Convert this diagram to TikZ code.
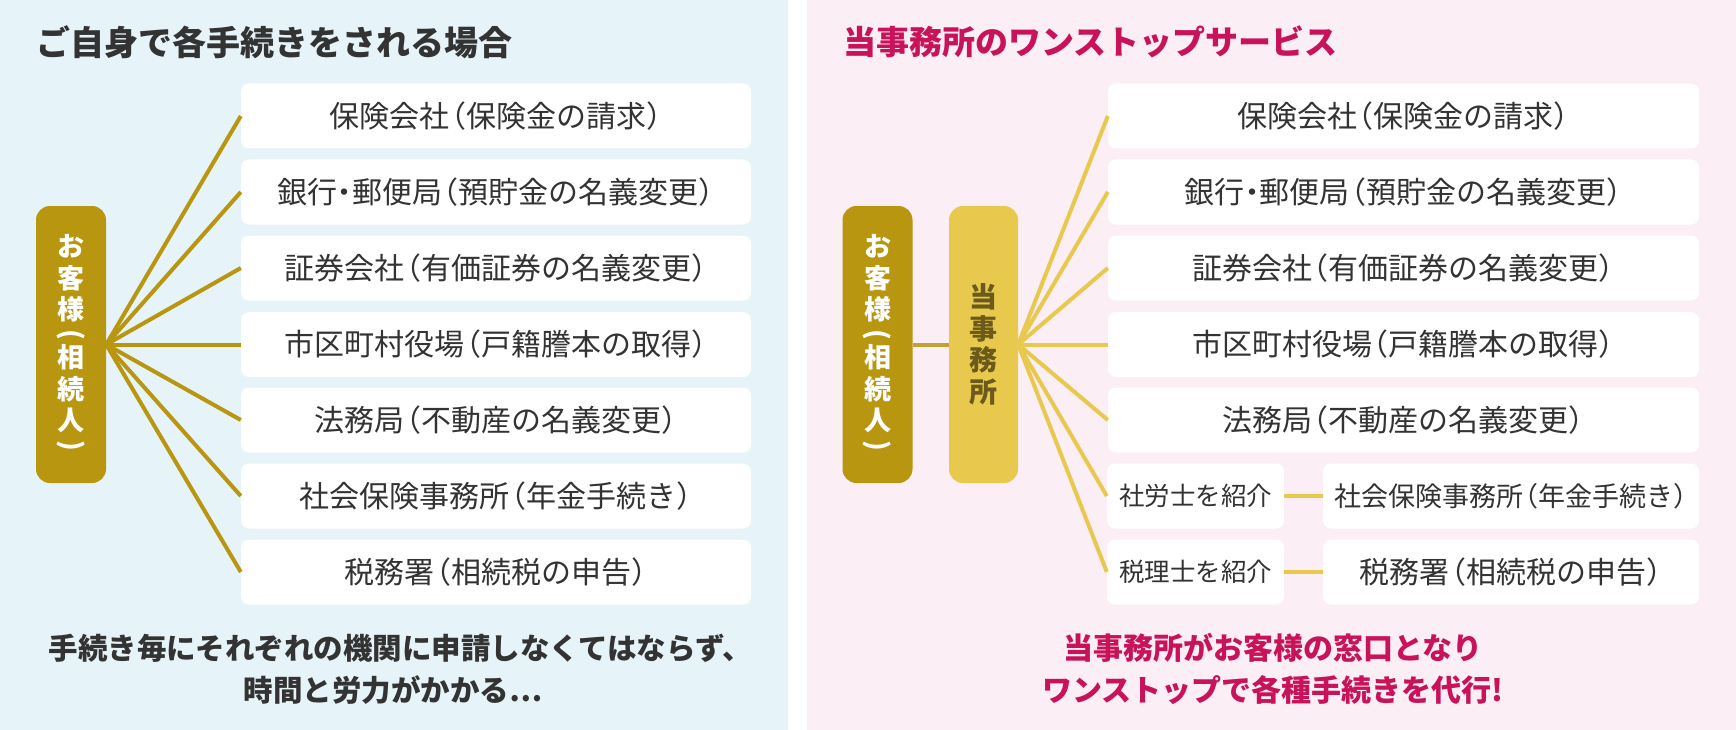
\documentclass[tikz,border=0pt]{standalone}
\usepackage{fontspec}
\usepackage{graphicx}
\newfontfamily\jp{Noto Sans CJK JP}
\newcommand\jlp{\kern-.45em（}
\newcommand\jrp{）\kern-.45em}
\newcommand\jdot{\kern-.25em・\kern-.25em}
\newcommand\vlp{\rotatebox[origin=c]{-90}{(}}
\newcommand\vrp{\rotatebox[origin=c]{-90}{)}}
\definecolor{bgblue}{HTML}{E6F3F8}
\definecolor{bgpink}{HTML}{FBEEF5}
\definecolor{gold}{HTML}{B8960F}
\definecolor{lgold}{HTML}{E8C94E}
\definecolor{midgold}{HTML}{C2A232}
\definecolor{olive}{HTML}{6B5A1A}
\definecolor{crim}{HTML}{C8125A}
\definecolor{tgray}{HTML}{333333}
\tikzset{
  item/.style={fill=white, rounded corners=8pt, inner sep=0pt, minimum height=65pt,
    text=tgray, font=\jp\fontsize{30}{34}\selectfont},
  itemsmall/.style={item, font=\jp\fontsize{25.5}{30}\selectfont},
  itemmid/.style={item, font=\jp\fontsize{27}{30}\selectfont},
  pill/.style={rounded corners=14pt, inner sep=0pt, minimum width=70pt,
    minimum height=277pt, align=center},
  fanL/.style={draw=gold, line width=4pt},
  fanR/.style={draw=lgold, line width=4pt},
  linkmid/.style={draw=midgold, line width=4pt},
  heading/.style={anchor=west, inner sep=0pt, font=\jp\bfseries\fontsize{34}{40}\selectfont},
  bottomtext/.style={align=center, inner sep=0pt, font=\jp\bfseries\fontsize{29.5}{42}\selectfont}
}
\begin{document}
\begin{tikzpicture}[x=1pt,y=-1pt]
\useasboundingbox (0,0) rectangle (1736,730);
\fill[bgblue] (0,0) rectangle (788,730);
\fill[bgpink] (807,0) rectangle (1736,730);

% ---------- left panel ----------
\node[heading, text=tgray] (hL) at (36,42) {ご自身で各手続きをされる場合};

\node[pill, fill=gold, text=white, font=\jp\bfseries\fontsize{27}{31.5}\selectfont] (custL) at (71,344.5)
  {お\\客\\様\\[-7.5pt]\vlp\\[-7.5pt]相\\続\\人\\[-7.5pt]\vrp};

\node[item, minimum width=510pt] (L1) at (496,116) {保険会社\jlp 保険金の請求\jrp};
\node[item, minimum width=510pt] (L2) at (496,192) {銀行\jdot 郵便局\jlp 預貯金の名義変更\jrp};
\node[item, minimum width=510pt] (L3) at (496,268) {証券会社\jlp 有価証券の名義変更\jrp};
\node[item, minimum width=510pt] (L4) at (496,344.5) {市区町村役場\jlp 戸籍謄本の取得\jrp};
\node[item, minimum width=510pt] (L5) at (496,420) {法務局\jlp 不動産の名義変更\jrp};
\node[item, minimum width=510pt] (L6) at (496,496) {社会保険事務所\jlp 年金手続き\jrp};
\node[item, minimum width=510pt] (L7) at (496,572) {税務署\jlp 相続税の申告\jrp};

\foreach \n in {L1,L2,L3,L4,L5,L6,L7}
  \draw[fanL] (custL.east) -- (\n.west);

\node[bottomtext, text=tgray] (tL) at (393,669)
  {手続き毎にそれぞれの機関に申請しなくてはならず、\kern-.5em\\時間と労力がかかる…};

% ---------- right panel ----------
\node[heading, text=crim, font=\jp\bfseries\fontsize{33}{40}\selectfont] (hR) at (843,42) {当事務所のワンストップサービス};

\node[pill, fill=gold, text=white, font=\jp\bfseries\fontsize{27}{31.5}\selectfont] (custR) at (877.5,344.5)
  {お\\客\\様\\[-7.5pt]\vlp\\[-7.5pt]相\\続\\人\\[-7.5pt]\vrp};
\node[pill, fill=lgold, text=olive, minimum width=69pt, font=\jp\bfseries\fontsize{28}{31.5}\selectfont] (office) at (983.5,344.5)
  {当\\事\\務\\所};
\draw[linkmid] (custR.east) -- (office.west);

\node[item, minimum width=591pt] (R1) at (1403.5,116) {保険会社\jlp 保険金の請求\jrp};
\node[item, minimum width=591pt] (R2) at (1403.5,192) {銀行\jdot 郵便局\jlp 預貯金の名義変更\jrp};
\node[item, minimum width=591pt] (R3) at (1403.5,268) {証券会社\jlp 有価証券の名義変更\jrp};
\node[item, minimum width=591pt] (R4) at (1403.5,344.5) {市区町村役場\jlp 戸籍謄本の取得\jrp};
\node[item, minimum width=591pt] (R5) at (1403.5,420) {法務局\jlp 不動産の名義変更\jrp};
\node[itemsmall, minimum width=177pt] (S6) at (1195.5,496) {社労士を紹介};
\node[itemmid, minimum width=376pt] (R6) at (1511,496) {社会保険事務所\jlp 年金手続き\jrp};
\node[itemsmall, minimum width=177pt] (S7) at (1195.5,572) {税理士を紹介};
\node[item, minimum width=376pt] (R7) at (1511,572) {税務署\jlp 相続税の申告\jrp};

\foreach \n in {R1,R2,R3,R4,R5,S6,S7}
  \draw[fanR] (office.east) -- (\n.west);
\draw[fanR] (S6.east) -- (R6.west);
\draw[fanR] (S7.east) -- (R7.west);

\node[bottomtext, text=crim, font=\jp\bfseries\fontsize{30}{42}\selectfont] (tR) at (1273,669)
  {当事務所がお客様の窓口となり\\ワンストップで各種手続きを代行!};
\end{tikzpicture}
\end{document}
